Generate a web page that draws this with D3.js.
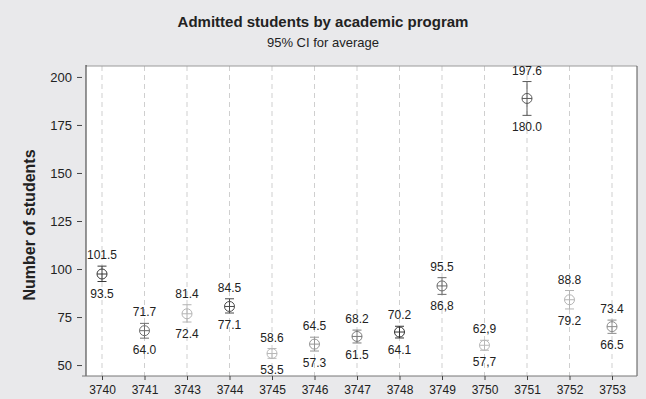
<!DOCTYPE html>
<html>
<head>
<meta charset="utf-8">
<title>Admitted students by academic program</title>
<script src="https://d3js.org/d3.v7.min.js"></script>
<style>
  body { margin: 0; background: #e9e9eb; }
  svg { display: block; font-family: "Liberation Sans", Arial, sans-serif; }
  .tick text { fill: #222; }
</style>
</head>
<body>
<div id="chart"></div>
<script>
// programs and their 95% CI (upper / lower) plus the average
var programs = ["3740", "3741", "3743", "3744", "3745", "3746", "3747", "3748", "3749", "3750", "3751", "3752", "3753"];
var upper = [101.5, 71.7, 81.4, 84.5, 58.6, 64.5, 68.2, 70.2, 95.5, 62.9, 197.6, 88.8, 73.4];
var lower = [93.5, 64.0, 72.4, 77.1, 53.5, 57.3, 61.5, 64.1, 86.8, 57.7, 180.0, 79.2, 66.5];
var means = [97.4, 67.9, 76.7, 80.5, 56.0, 60.9, 64.9, 67.2, 91.2, 60.3, 188.8, 84.0, 70.0];
// labels as printed (some use a decimal comma)
var upperLabels = ["101.5", "71.7", "81.4", "84.5", "58.6", "64.5", "68.2", "70.2", "95.5", "62,9", "197.6", "88.8", "73.4"];
var lowerLabels = ["93.5", "64.0", "72.4", "77.1", "53.5", "57.3", "61.5", "64.1", "86,8", "57,7", "180.0", "79.2", "66.5"];
var yTicks = [50, 75, 100, 125, 150, 175, 200];

// grey shade of each interval
var shades = ["#3a3a3a", "#6e6e6e", "#b4b4b4", "#4a4a4a", "#b8b8b8", "#969696", "#7a7a7a", "#333333", "#6a6a6a", "#b8b8b8", "#5a5a5a", "#b4b4b4", "#8c8c8c"];

var W = 646, H = 399;
var margin = {top: 66, right: 9, bottom: 23, left: 86};
var width = W - margin.left - margin.right,
    height = H - margin.top - margin.bottom;

var data = programs.map(function(p, i) {
  return {prog: p, up: upper[i], lo: lower[i], mean: means[i],
          upLab: upperLabels[i], loLab: lowerLabels[i], color: shades[i]};
});

var svg = d3.select("#chart").append("svg")
  .attr("width", W)
  .attr("height", H);

// title
svg.append("text")
  .attr("x", W / 2).attr("y", 27)
  .attr("text-anchor", "middle")
  .style("font-size", "15px").style("font-weight", "bold").style("fill", "#222")
  .text("Admitted students by academic program");
svg.append("text")
  .attr("x", W / 2).attr("y", 47)
  .attr("text-anchor", "middle")
  .style("font-size", "13px").style("fill", "#222")
  .text("95% CI for average");

var g = svg.append("g")
  .attr("transform", "translate(" + margin.left + "," + margin.top + ")");

g.append("rect")
  .attr("width", width).attr("height", height)
  .style("fill", "#fff");

var x = d3.scalePoint()
  .domain(programs)
  .range([16, 526]);

var y = d3.scaleLinear()
  .domain([44.3, 205.7])
  .range([height, 0]);

// dashed vertical gridlines
g.append("g").selectAll("line")
  .data(programs)
  .enter().append("line")
    .attr("x1", function(d) { return x(d); })
    .attr("x2", function(d) { return x(d); })
    .attr("y1", 0).attr("y2", height)
    .style("stroke", "#cfcfcf")
    .style("stroke-dasharray", "5,4");

// frame
g.append("line").attr("x1", 0).attr("x2", width).attr("y1", 0).attr("y2", 0)
  .style("stroke", "#9a9a9a");
g.append("line").attr("x1", width).attr("x2", width).attr("y1", 0).attr("y2", height)
  .style("stroke", "#555");

// y axis (tick marks sit a little left of the axis line)
var yAxis = g.append("g")
  .attr("transform", "translate(-4,0)")
  .call(d3.axisLeft(y).tickValues(yTicks).tickSize(5).tickPadding(5));
yAxis.select(".domain").remove();
yAxis.selectAll(".tick line").style("stroke", "#444");
yAxis.selectAll(".tick text").style("font-size", "13px");
g.append("line").attr("x1", 0).attr("x2", 0).attr("y1", -1).attr("y2", height)
  .style("stroke", "#333");

// x axis
var xAxis = g.append("g")
  .attr("transform", "translate(0," + height + ")")
  .call(d3.axisBottom(x).tickSize(4).tickPadding(5));
xAxis.select(".domain").attr("d", "M-4,0H" + width).style("stroke", "#777");
xAxis.selectAll(".tick line").style("stroke", "#444");
xAxis.selectAll(".tick text").style("font-size", "12px");

// axis title
svg.append("text")
  .attr("transform", "translate(35," + 225 + ") rotate(-90)")
  .attr("text-anchor", "middle")
  .style("font-size", "16px").style("font-weight", "bold").style("fill", "#222")
  .text("Number of students");

// intervals
var cap = 4.5, r = 5;
var pts = g.append("g").selectAll("g")
  .data(data)
  .enter().append("g")
    .attr("transform", function(d) { return "translate(" + x(d.prog) + ",0)"; })
    .style("stroke", function(d) { return d.color; })
    .style("fill", "none");

pts.append("line")
  .attr("y1", function(d) { return y(d.up); })
  .attr("y2", function(d) { return y(d.mean) - r; });
pts.append("line")
  .attr("y1", function(d) { return y(d.mean) + r; })
  .attr("y2", function(d) { return y(d.lo); });
pts.append("line")
  .attr("x1", -cap).attr("x2", cap)
  .attr("y1", function(d) { return y(d.up); })
  .attr("y2", function(d) { return y(d.up); });
pts.append("line")
  .attr("x1", -cap).attr("x2", cap)
  .attr("y1", function(d) { return y(d.lo); })
  .attr("y2", function(d) { return y(d.lo); });
// circle with cross
pts.append("circle")
  .attr("cy", function(d) { return y(d.mean); })
  .attr("r", r);
pts.append("line")
  .attr("x1", -r).attr("x2", r)
  .attr("y1", function(d) { return y(d.mean); })
  .attr("y2", function(d) { return y(d.mean); });
pts.append("line")
  .attr("y1", function(d) { return y(d.mean) - r; })
  .attr("y2", function(d) { return y(d.mean) + r; });

// value labels
pts.append("text")
  .attr("y", function(d) { return y(d.up) - 7; })
  .attr("text-anchor", "middle")
  .style("stroke", "none").style("fill", "#222").style("font-size", "12px")
  .text(function(d) { return d.upLab; });
pts.append("text")
  .attr("y", function(d) { return y(d.lo) + 16; })
  .attr("text-anchor", "middle")
  .style("stroke", "none").style("fill", "#222").style("font-size", "12px")
  .text(function(d) { return d.loLab; });
</script>
</body>
</html>
